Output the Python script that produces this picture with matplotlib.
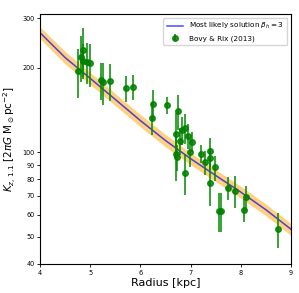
import numpy as np
import matplotlib
matplotlib.use('Agg')
from matplotlib import pyplot as plt
from matplotlib.ticker import FixedLocator, NullLocator, ScalarFormatter

# most likely model curve
model_r = [4.0, 4.5, 5.0, 5.5, 6.0, 6.5, 7.0, 7.5, 8.0, 8.5, 9.0]
model_k = [266, 217, 183, 154, 129.5, 110, 94.8, 82.6, 72.1, 62.4, 53.2]
band_lo = [253, 206, 174, 146.5, 123, 104.5, 90.2, 78.6, 68.6, 59.4, 50.6]
band_hi = [279, 228, 192, 161.5, 136, 115.5, 99.4, 86.6, 75.6, 65.4, 55.8]

# Bovy & Rix (2013) measurements
obs_r = [4.763, 4.811, 4.857, 4.851, 4.942, 4.996, 5.215, 5.261, 5.394, 5.713,
         5.847, 6.225, 6.257, 6.524, 6.755, 6.709, 6.835, 6.888, 6.942, 7.022,
         6.799, 6.709, 6.723, 6.888, 6.988, 7.201, 7.386, 7.386, 7.287, 7.480,
         7.386, 7.739, 7.884, 8.098, 7.566, 7.606, 8.070, 8.735]
obs_k = [194.7, 218.4, 230.7, 211.6, 209.6, 206.9, 180.4, 177.5, 178.9, 168.5,
         170.8, 132.7, 147.8, 147.0, 140.3, 115.6, 119.8, 122.0, 114.3, 108.8,
         109.9, 98.8, 96.0, 84.2, 100.2, 98.8, 101.2, 95.0, 91.9, 88.2,
         77.4, 74.3, 72.8, 69.0, 61.8, 61.8, 62.2, 53.1]
obs_err = [39, 40, 45, 30, 35, 36, 27, 30, 27, 18,
           18, 18, 18, 10.5, 20, 22, 14, 15, 12, 9,
           12, 20, 10, 14, 12, 7, 11, 8.5, 9, 9,
           13, 7, 9.5, 7, 10, 10, 6, 7.5]

fig = plt.figure(figsize=(2.99, 2.93), dpi=100)
ax = fig.add_axes([0.134, 0.099, 0.839, 0.853])

ax.fill_between(model_r, band_lo, band_hi, color='orange', alpha=0.5, lw=0)
ax.plot(model_r, model_k, color='blue', lw=1.1, alpha=0.7,
        label=r'Most likely solution $\beta_h = 3$')
ax.errorbar(obs_r, obs_k, yerr=obs_err, fmt='o', color='green', ms=4,
            ecolor=(0, 0.55, 0, 0.45), elinewidth=1.3, alpha=0.85,
            label='Bovy & Rix (2013)')

ax.set_yscale('log')
ax.set_xlim(4, 9)
ax.set_ylim(40, 310)
ax.yaxis.set_major_locator(FixedLocator([40, 50, 60, 70, 80, 90, 100, 200, 300]))
ax.yaxis.set_minor_locator(NullLocator())
ax.yaxis.set_major_formatter(ScalarFormatter())
ax.set_xticks([4, 5, 6, 7, 8, 9])
ax.tick_params(labelsize=4.7, length=2.5, width=0.6, pad=1.5)
for s in ax.spines.values():
    s.set_linewidth(0.8)

ax.set_xlabel('Radius [kpc]', fontsize=8, labelpad=2)
ax.set_ylabel(r'$K_{z,\,1.1}$ [$2\pi G$ M$_\odot$pc$^{-2}$]', fontsize=7.5, labelpad=3)
ax.legend(loc='upper right', fontsize=5.2, handlelength=2.2, borderpad=0.5)

fig.savefig('out.png', dpi=100)
